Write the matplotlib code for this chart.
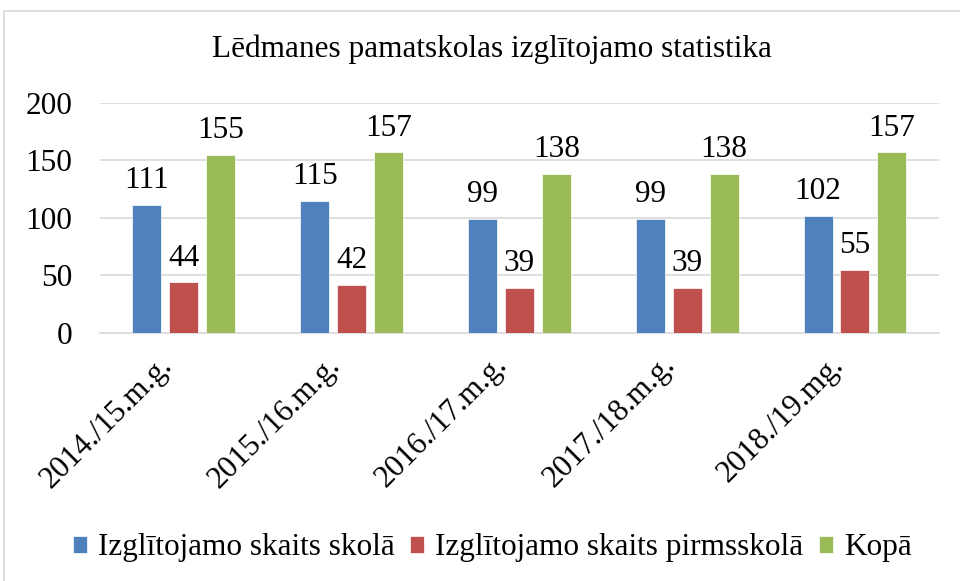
import matplotlib
matplotlib.use("Agg")
import matplotlib.pyplot as plt
import matplotlib.transforms as mtransforms
import numpy as np
from matplotlib.patches import Rectangle
from matplotlib.font_manager import FontProperties

plt.rcParams['font.family'] = ['Liberation Serif', 'DejaVu Serif']

title = "Lēdmanes pamatskolas izglītojamo statistika"
years = ["2014./15.m.g.", "2015./16.m.g.", "2016./17.m.g.", "2017./18.m.g.", "2018./19.mg."]
skola = [111, 115, 99, 99, 102]
pirmsskola = [44, 42, 39, 39, 55]
kopa = [155, 157, 138, 138, 157]
series_names = ["Izglītojamo skaits skolā", "Izglītojamo skaits pirmsskolā", "Kopā"]
colors = ["#4F81BD", "#C0504D", "#9BBB59"]

fs = 22.5

fig = plt.figure(figsize=(9.6, 5.81), dpi=100)
ax = fig.add_axes([0.104, 0.427, 0.874, 0.396])

# outer chart border
fig.patches.append(Rectangle((4 / 960, -0.05), 1.0, 1 - 11 / 581 + 0.05,
                             transform=fig.transFigure, fill=False,
                             edgecolor="#D9D9D9", linewidth=1.2))

x = np.arange(len(years))
width = 0.173
step = 0.22
for i, (vals, name, col) in enumerate(zip([skola, pirmsskola, kopa], series_names, colors)):
    bars = ax.bar(x + (i - 1) * step, vals, width, color=col, label=name,
                  edgecolor="white", linewidth=0.5, zorder=3)
    for b, v in zip(bars, vals):
        ax.annotate(str(v), (b.get_x() + b.get_width() / 2, v),
                    xytext=(0, 7), textcoords="offset points",
                    ha="center", va="bottom", fontsize=fs, color="black")

ax.set_xlim(-0.5, len(years) - 0.5)
ax.set_ylim(0, 200)
ax.set_yticks([0, 50, 100, 150, 200])
ax.yaxis.grid(True, color="#D9D9D9", linewidth=1.2, zorder=0)
ax.set_axisbelow(True)
for s in ["top", "right", "left"]:
    ax.spines[s].set_visible(False)
ax.spines["bottom"].set_color("#D9D9D9")
ax.spines["bottom"].set_linewidth(1.2)
ax.tick_params(axis="both", length=0, labelsize=fs, colors="black")
ax.tick_params(axis="y", pad=20)
ax.set_xticks(x)
ax.set_xticklabels(years, rotation=45, ha="right", va="center",
                   rotation_mode="anchor", fontsize=fs)
ax.tick_params(axis="x", pad=20)
shift = mtransforms.ScaledTranslation(-16 / 100, 0, fig.dpi_scale_trans)
for lbl in ax.get_xticklabels():
    lbl.set_transform(lbl.get_transform() + shift)

fig.text(0.512, 0.915, title, ha="center", va="center", fontsize=fs)

fig.legend(loc="center", bbox_to_anchor=(0.513, 0.057), ncol=3, frameon=False,
           prop=FontProperties(family="Liberation Serif", size=fs),
           handlelength=0.45, handleheight=0.45, handletextpad=0.35,
           columnspacing=0.5)

fig.savefig("out.png", dpi=100)
